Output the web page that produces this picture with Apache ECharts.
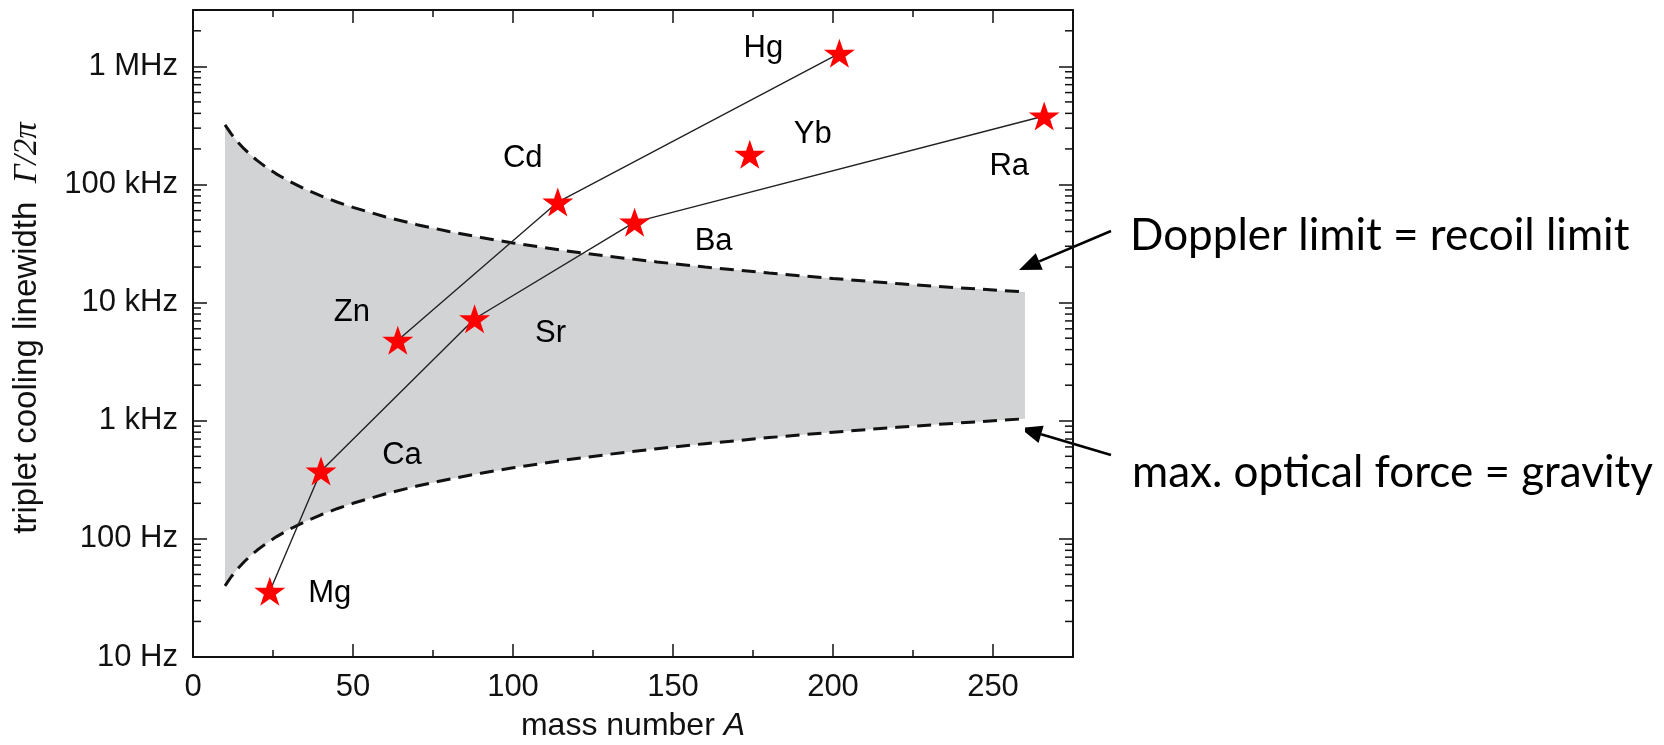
<!DOCTYPE html>
<html>
<head>
<meta charset="utf-8">
<script src="https://cdn.jsdelivr.net/npm/echarts@6/dist/echarts.min.js"></script>
<style>
html, body { margin: 0; padding: 0; background: #fff; }
#chart { width: 1664px; height: 745px; }
</style>
</head>
<body>
<div id="chart"></div>
<script>
// triplet cooling lines
var elements = ['Mg', 'Ca', 'Zn', 'Sr', 'Cd', 'Ba', 'Yb', 'Hg', 'Ra'];
var massNumber = [24, 40, 64, 88, 114, 138, 174, 202, 266];
var linewidthHz = [36, 375, 4800, 7300, 71000, 48000, 180000, 1290000, 380000];

var alkalineEarthChain = ['Mg', 'Ca', 'Sr', 'Ba', 'Ra'];
var group12Chain = ['Zn', 'Cd', 'Hg'];

// limit curves
var curveMass = [10, 12, 14, 16, 18, 20, 23, 26, 30, 35, 40, 45, 50, 60, 70, 80, 90, 100, 115, 130, 145, 160, 180, 200, 220, 240, 260];
var dopplerLimitHz = [320000, 266700, 228600, 200000, 177800, 160000, 139100, 123100, 106700, 91400, 80000, 71100, 64000, 53300, 45700, 40000, 35600, 32000, 27800, 24600, 22100, 20000, 17800, 16000, 14500, 13300, 12300];
var gravityLimitHz = [40, 48, 56, 64, 72, 80, 92, 104, 120, 140, 160, 180, 200, 240, 280, 320, 360, 400, 460, 520, 580, 640, 720, 800, 880, 960, 1040];

// ticks
var xMinorTicks = [25, 75, 125, 175, 225];
var yTickValues = [10, 100, 1000, 10000, 100000, 1000000];
var yTickLabels = ['10 Hz', '100 Hz', '1 kHz', '10 kHz', '100 kHz', '1 MHz'];
var yMinorFactors = [2, 3, 4, 5, 6, 7, 8, 9];

var labelOffset = {
  Mg: [60, 2], Ca: [81, -16], Zn: [-46, -28], Sr: [76, 15], Cd: [-35, -44],
  Ba: [79, 19], Yb: [63, -20], Hg: [-76, -5], Ra: [-35, 50]
};

var FONT = 'Liberation Sans, Arial, Helvetica, sans-serif';
var INK = '#111';
var STAR = 'path://M50,0 L61.8,35.1 L98.8,35.1 L68.8,57.1 L80.3,92.7 L50,70.8 L19.7,92.7 L31.2,57.1 L1.2,35.1 L38.2,35.1 Z';

function point(name) {
  var i = elements.indexOf(name);
  return [massNumber[i], linewidthHz[i]];
}

var yMinorTicks = [];
yTickValues.forEach(function (d) {
  yMinorFactors.forEach(function (f) {
    if (d * f < 3e6) yMinorTicks.push([0, d * f]);
  });
});

var chart = echarts.init(document.getElementById('chart'));

function arrow(x1, y1, x2, y2) {
  var ang = Math.atan2(y2 - y1, x2 - x1);
  var len = 22, half = 9;
  var bx = x2 - len * Math.cos(ang), by = y2 - len * Math.sin(ang);
  var nx = -Math.sin(ang), ny = Math.cos(ang);
  return [
    { type: 'line', shape: { x1: x1, y1: y1, x2: bx, y2: by }, style: { stroke: '#000', lineWidth: 2.5 } },
    { type: 'polygon', shape: { points: [[x2, y2], [bx + nx * half, by + ny * half], [bx - nx * half, by - ny * half]] }, style: { fill: '#000' } }
  ];
}

var baseAxis = {
  axisLine: { show: true, onZero: false, lineStyle: { color: INK, width: 2 } },
  splitLine: { show: false }
};

var option = {
  backgroundColor: '#fff',
  animation: false,
  grid: { left: 193, right: 591, top: 10, bottom: 88, containLabel: false, outerBoundsMode: 'none' },
  xAxis: [
    Object.assign({}, baseAxis, {
      type: 'value', position: 'bottom', min: 0, max: 275, interval: 50, z: 10,
      axisTick: { show: true, inside: true, length: 13, lineStyle: { color: INK, width: 1.5 } },
      axisLabel: { show: true, margin: 15, fontSize: 31, color: INK, fontFamily: FONT, showMaxLabel: false },
      name: 'mass number {i|A}', nameLocation: 'middle', nameGap: 53,
      nameTextStyle: {
        fontSize: 32, color: INK, fontFamily: FONT,
        rich: { i: { fontSize: 32, color: INK, fontFamily: FONT, fontStyle: 'italic' } }
      }
    }),
    Object.assign({}, baseAxis, {
      type: 'value', position: 'top', min: 0, max: 275, interval: 50, z: 10,
      axisTick: { show: true, inside: true, length: 13, lineStyle: { color: INK, width: 1.5 } },
      axisLabel: { show: false }
    })
  ],
  yAxis: [
    Object.assign({}, baseAxis, {
      type: 'log', logBase: 10, position: 'left', min: 10, max: 3e6, z: 10,
      axisTick: { show: true, inside: true, length: 14, lineStyle: { color: INK, width: 1.5 } },
      axisLabel: {
        show: true, margin: 15, fontSize: 31, color: INK, fontFamily: FONT, showMaxLabel: false,
        formatter: function (v) {
          var i = yTickValues.indexOf(Math.round(v));
          return i >= 0 ? yTickLabels[i] : '';
        }
      }
    }),
    Object.assign({}, baseAxis, {
      type: 'log', logBase: 10, position: 'right', min: 10, max: 3e6, z: 10,
      axisTick: { show: true, inside: true, length: 14, lineStyle: { color: INK, width: 1.5 } },
      axisLabel: { show: false }
    })
  ],
  series: [
    {
      name: 'Doppler limit', type: 'line', z: 2,
      data: curveMass.map(function (a, i) { return [a, dopplerLimitHz[i]]; }),
      smooth: false, showSymbol: false, symbol: 'none',
      lineStyle: { color: '#111', width: 3, type: [14, 8] },
      areaStyle: { color: '#d2d3d5', opacity: 1, origin: 'start' }
    },
    {
      name: 'gravity limit', type: 'line', z: 3,
      data: curveMass.map(function (a, i) { return [a, gravityLimitHz[i]]; }),
      smooth: false, showSymbol: false, symbol: 'none',
      lineStyle: { color: '#111', width: 3, type: [14, 8] },
      areaStyle: { color: '#ffffff', opacity: 1, origin: 'start' }
    },
    {
      name: 'alkaline earth', type: 'line', z: 4, symbol: 'none',
      data: alkalineEarthChain.map(point),
      lineStyle: { color: '#222', width: 1.4 }
    },
    {
      name: 'group 12', type: 'line', z: 4, symbol: 'none',
      data: group12Chain.map(point),
      lineStyle: { color: '#222', width: 1.4 }
    },
    {
      name: 'elements', type: 'scatter', z: 6,
      symbol: STAR, symbolSize: [31, 29],
      itemStyle: { color: '#ff0000', opacity: 1 },
      data: elements.map(function (el, i) {
        return {
          name: el, value: [massNumber[i], linewidthHz[i]],
          label: { offset: labelOffset[el] }
        };
      }),
      label: { show: true, position: 'inside', formatter: '{b}', fontSize: 31, color: '#000', fontFamily: FONT }
    },
    {
      name: 'y minor ticks', type: 'custom', z: 12, silent: true, clip: false,
      data: yMinorTicks,
      renderItem: function (params, api) {
        var cs = params.coordSys;
        var y = api.coord([0, api.value(1)])[1];
        var st = { stroke: INK, lineWidth: 1.5 };
        return { type: 'group', children: [
          { type: 'line', shape: { x1: cs.x, y1: y, x2: cs.x + 8, y2: y }, style: st },
          { type: 'line', shape: { x1: cs.x + cs.width - 8, y1: y, x2: cs.x + cs.width, y2: y }, style: st }
        ] };
      }
    },
    {
      name: 'x minor ticks', type: 'custom', z: 12, silent: true, clip: false,
      data: xMinorTicks.map(function (v) { return [v, 1000]; }),
      renderItem: function (params, api) {
        var cs = params.coordSys;
        var x = api.coord([api.value(0), 1000])[0];
        var st = { stroke: INK, lineWidth: 1.5 };
        return { type: 'group', children: [
          { type: 'line', shape: { x1: x, y1: cs.y + cs.height, x2: x, y2: cs.y + cs.height - 7 }, style: st },
          { type: 'line', shape: { x1: x, y1: cs.y, x2: x, y2: cs.y + 7 }, style: st }
        ] };
      }
    }
  ],
  graphic: [
    {
      type: 'text', x: 27, y: 328, rotation: Math.PI / 2,
      style: {
        text: 'triplet cooling linewidth  {g|Γ/2π}',
        fontSize: 33, fontFamily: FONT, fill: INK,
        align: 'center', verticalAlign: 'middle',
        rich: { g: { fontSize: 33, fontFamily: 'Liberation Serif, Times New Roman, serif', fontStyle: 'italic', fill: INK } }
      }
    },
    {
      type: 'text', x: 1130, y: 236,
      style: { text: 'Doppler limit = recoil limit', fontSize: 44, fontFamily: 'Lato, sans-serif', fill: '#000', align: 'left', verticalAlign: 'middle' }
    },
    {
      type: 'text', x: 1132, y: 473,
      style: { text: 'max. optical force = gravity', fontSize: 44, fontFamily: 'Lato, sans-serif', fill: '#000', align: 'left', verticalAlign: 'middle' }
    }
  ].concat(arrow(1111, 231, 1019, 270)).concat(arrow(1111, 455, 1020, 428))
};

chart.setOption(option);
</script>
</body>
</html>
